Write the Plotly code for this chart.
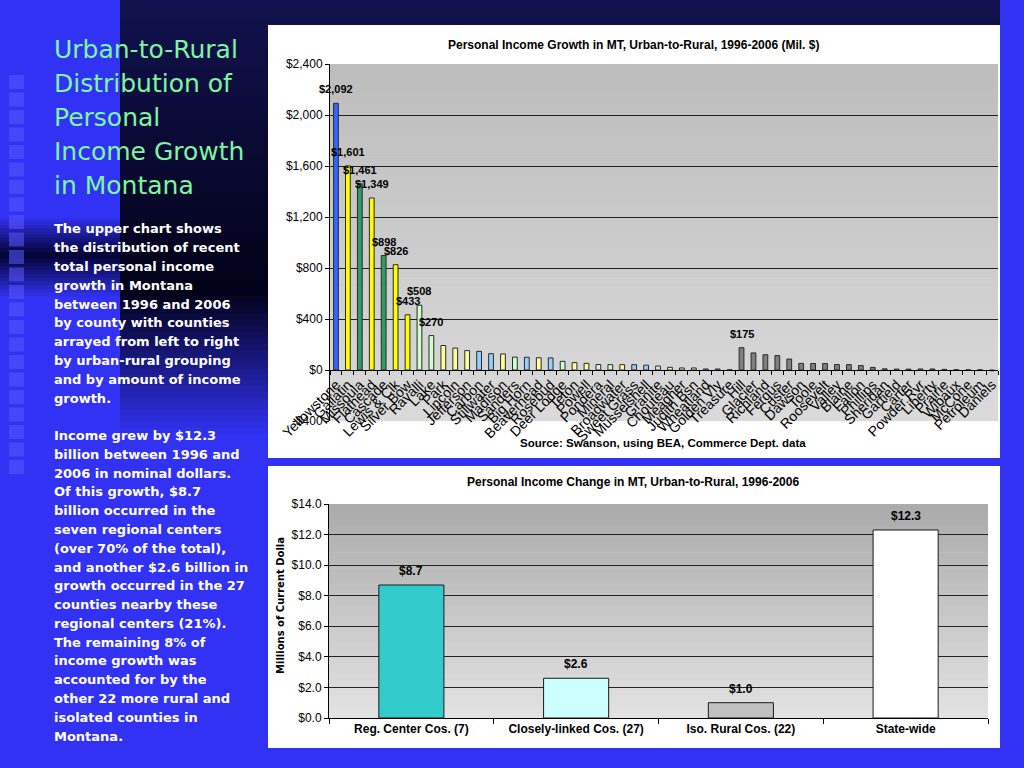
import plotly.graph_objects as go

W, H = 1024, 768


def X(px):
    return px / W


def Y(py):
    return 1 - py / H


# ---------------- data ----------------
counties = ["Yellowstone", "Gallatin", "Missoula", "Flathead", "Cascade", "Lewis & Clk", "Silver Bow",
            "Ravalli", "Lake", "Park", "Lincoln", "Jefferson", "Carbon", "Stillwater", "Madison",
            "Sanders", "Big Horn", "Beaverhead", "Rosebud", "Deer Lodge", "Teton", "Powell", "Pondera",
            "Mineral", "Broadwater", "Sweet Grass", "Musselshell", "Granite", "Chouteau", "Meagher",
            "Judith Bsn", "Wheatland", "Golden Vly", "Treasure",
            "Hill", "Glacier", "Richland", "Fergus", "Custer", "Dawson", "Toole", "Roosevelt", "Valley",
            "Blaine", "Fallon", "Phillips", "Sheridan", "Garfield", "Carter", "Powder Rvr", "Liberty",
            "Prairie", "Wibaux", "McCone", "Petroleum", "Daniels"]
growth = [2092, 1601, 1461, 1349, 898, 826, 433,
          508, 270, 192, 172, 152, 146, 128, 126, 101, 100, 96, 95, 68, 58, 52, 43, 42, 42, 42, 38,
          31, 21, 16, 16, 8, 8, 2,
          175, 134, 120, 113, 86, 52, 51, 51, 43, 42, 35, 20, 9, 7, 7, 8, 8, 5, 2, 1, 1, -6]
color_codes = ["B", "Y", "G", "Y", "G", "Y", "Y",
               "lg", "lg", "ly", "ly", "ly", "lb", "lb", "ly", "lg", "lb", "ly", "lb", "lg", "ly",
               "ly", "lg", "lg", "ly", "lb", "lb", "lg", "ly", "lg", "lg", "lb", "lb", "lb"] + ["gr"] * 22
labeled = ["Yellowstone", "Gallatin", "Missoula", "Flathead", "Cascade", "Lewis & Clk", "Silver Bow",
           "Ravalli", "Lake", "Hill"]
y1_ticks = [-400, 0, 400, 800, 1200, 1600, 2000, 2400]
y1_ticktext = ["-$400", "$0", "$400", "$800", "$1,200", "$1,600", "$2,000", "$2,400"]

groups = ["Reg. Center Cos. (7)", "Closely-linked Cos. (27)", "Iso. Rural Cos. (22)", "State-wide"]
group_change = [8.7, 2.6, 1.0, 12.3]
group_colors = ["#33CCCC", "#CCFFFF", "#C0C0C0", "#FFFFFF"]

title_lines = ["Urban-to-Rural", "Distribution of", "Personal", "Income Growth", "in Montana"]
body_lines = ["The upper chart shows", "the distribution of recent", "total personal income",
              "growth in Montana", "between 1996 and 2006", "by county with counties",
              "arrayed from left to right", "by urban-rural grouping", "and by amount of income",
              "growth.", "",
              "Income grew by $12.3", "billion between 1996 and", "2006 in nominal dollars.",
              "Of this growth, $8.7", "billion occurred in the", "seven regional centers",
              "(over 70% of the total),", "and another $2.6 billion in", "growth occurred in the 27",
              "counties nearby these", "regional centers (21%).", "The remaining 8% of",
              "income growth was", "accounted for by the", "other 22 more rural and",
              "isolated counties in", "Montana."]

palette = {"B": "#3366FF", "Y": "#FFFF00", "G": "#339966", "lb": "#99CCFF",
           "ly": "#FFFF99", "lg": "#CCFFCC", "gr": "#808080"}

FONT = "Liberation Sans, Arial, sans-serif"

# ---------------- helpers for decoration ----------------
shapes = []


def hexrgb(c):
    c = c.lstrip("#")
    return tuple(int(c[i:i + 2], 16) for i in (0, 2, 4))


def vgrad(x0, x1, y0, y1, c0, c1, n=30):
    a, b = hexrgb(c0), hexrgb(c1)
    for i in range(n):
        t = i / max(n - 1, 1)
        col = "rgb(%d,%d,%d)" % tuple(round(a[k] + (b[k] - a[k]) * t) for k in range(3))
        ya = y0 + (y1 - y0) * i / n
        yb = y0 + (y1 - y0) * (i + 1) / n + 0.6
        shapes.append(dict(type="rect", xref="paper", yref="paper", layer="below",
                           x0=X(x0), x1=X(x1), y0=Y(min(yb, y1)), y1=Y(ya),
                           fillcolor=col, line=dict(width=0)))


BLUE = "#3232F4"
# dark upper area of slide
vgrad(120, 1000, 0, 290, "#12124E", "#02021A", 30)
vgrad(120, 268, 290, 440, "#02021A", BLUE, 25)
# dark band on left column
vgrad(0, 120, 215, 255, BLUE, "#05053A", 12)
vgrad(0, 120, 255, 300, "#05053A", BLUE, 12)
# decorative squares
yy = 75.0
while yy < 470:
    shapes.append(dict(type="rect", xref="paper", yref="paper", layer="below",
                       x0=X(9), x1=X(24), y0=Y(yy + 14), y1=Y(yy),
                       fillcolor="rgba(90,90,255,0.55)", line=dict(width=0)))
    yy += 17.5

# white chart boxes
for (bx0, by0, bx1, by1) in [(268, 25, 1000, 458), (268, 466, 1000, 748)]:
    shapes.append(dict(type="rect", xref="paper", yref="paper", layer="below",
                       x0=X(bx0), x1=X(bx1), y0=Y(by1), y1=Y(by0),
                       fillcolor="white", line=dict(width=0)))

# plot area gradients
P1 = (330, 64, 998, 421)
P2 = (329, 504, 988, 718)
vgrad(P1[0], P1[2], P1[1], P1[3], "#BDBDBD", "#DADADA", 40)
vgrad(P2[0], P2[2], P2[1], P2[3], "#ABABAB", "#E2E2E2", 40)

# ---------------- traces ----------------
fig = go.Figure()
fig.add_trace(go.Bar(x=counties, y=growth, width=0.4,
                     marker=dict(color=[palette[c] for c in color_codes],
                                 line=dict(color="#2A2A2A", width=1)),
                     xaxis="x", yaxis="y", hoverinfo="x+y"))
fig.add_trace(go.Bar(x=groups, y=group_change, width=0.395,
                     marker=dict(color=group_colors, line=dict(color="#1A1A1A", width=1)),
                     xaxis="x2", yaxis="y2", hoverinfo="x+y"))

annotations = []
for name, v in zip(counties, growth):
    if name in labeled:
        annotations.append(dict(x=name, y=v, xref="x", yref="y", text="${:,}".format(v),
                                showarrow=False, yshift=14, yanchor="middle",
                                font=dict(family=FONT, size=11, color="black", weight="bold")))
for g, v in zip(groups, group_change):
    annotations.append(dict(x=g, y=v, xref="x2", yref="y2", text="${:.1f}".format(v),
                            showarrow=False, yshift=14, yanchor="middle",
                            font=dict(family=FONT, size=12, color="black", weight="bold")))

# chart titles and notes
annotations.append(dict(x=X(633), y=Y(45), xref="paper", yref="paper", showarrow=False,
                        yanchor="middle",
                        text="Personal Income Growth in MT, Urban-to-Rural, 1996-2006 (Mil. $)",
                        font=dict(family=FONT, size=12, color="black", weight="bold")))
annotations.append(dict(x=X(663), y=Y(443), xref="paper", yref="paper", showarrow=False,
                        yanchor="middle",
                        text="Source: Swanson, using BEA, Commerce Dept. data",
                        font=dict(family=FONT, size=11.5, color="black", weight="bold")))
annotations.append(dict(x=X(633), y=Y(482), xref="paper", yref="paper", showarrow=False,
                        yanchor="middle",
                        text="Personal Income Change in MT, Urban-to-Rural, 1996-2006",
                        font=dict(family=FONT, size=12, color="black", weight="bold")))
annotations.append(dict(x=X(280), y=Y(606), xref="paper", yref="paper", showarrow=False,
                        text="Millions of Current Dolla", textangle=-90,
                        xanchor="center", yanchor="middle",
                        font=dict(family="DejaVu Sans", size=10, color="black", weight="bold")))

# left-side text
for i, line in enumerate(title_lines):
    annotations.append(dict(x=X(52), y=Y(49 + i * 34.2), xref="paper", yref="paper",
                            showarrow=False, text=line, xanchor="left", yanchor="middle",
                            font=dict(family="DejaVu Sans", size=25, color="#7FF5A0")))
for i, line in enumerate(body_lines):
    if line:
        annotations.append(dict(x=X(52), y=Y(229 + i * 18.78), xref="paper", yref="paper",
                                showarrow=False, text=line, xanchor="left", yanchor="middle",
                                font=dict(family="DejaVu Sans", size=13, color="white",
                                          weight="bold")))

# zero-line position of chart 1 in paper coordinates
ymin, ymax = y1_ticks[0], y1_ticks[-1]
dom1 = [Y(P1[3]), Y(P1[1])]
zero_pos = dom1[0] + (0 - ymin) / (ymax - ymin) * (dom1[1] - dom1[0])

fig.update_layout(
    width=W, height=H, margin=dict(l=0, r=0, t=0, b=0, pad=0, autoexpand=False),
    paper_bgcolor=BLUE, plot_bgcolor="rgba(0,0,0,0)",
    showlegend=False,
    shapes=shapes, annotations=annotations,
    font=dict(family=FONT, color="black"),
    xaxis=dict(domain=[X(P1[0]), X(P1[2])], anchor="free", position=zero_pos,
               type="category", categoryorder="array", categoryarray=counties,
               range=[-0.5, len(counties) - 0.5], dtick=1, automargin=False,
               showline=True, linecolor="black", linewidth=1,
               ticks="outside", tickson="boundaries", ticklen=4, tickcolor="black",
               tickangle=-45, tickfont=dict(family=FONT, size=14, color="black"),
               showgrid=False, fixedrange=True),
    yaxis=dict(domain=dom1, anchor="x", range=[ymin, ymax], automargin=False,
               tickvals=y1_ticks, ticktext=y1_ticktext,
               showline=True, linecolor="black", linewidth=1,
               ticks="outside", ticklen=4, tickcolor="black",
               gridcolor="#222222", gridwidth=1, zeroline=False,
               tickfont=dict(family=FONT, size=12, color="black"), fixedrange=True),
    xaxis2=dict(domain=[X(P2[0]), X(P2[2])], anchor="y2", automargin=False,
                type="category", categoryorder="array", categoryarray=groups,
                showline=True, linecolor="black", linewidth=1,
                ticks="outside", tickson="boundaries", ticklen=5, tickcolor="black",
                tickfont=dict(family=FONT, size=12, color="black", weight="bold"),
                showgrid=False, fixedrange=True),
    yaxis2=dict(domain=[Y(P2[3]), Y(P2[1])], anchor="x2", range=[0, 14], dtick=2,
                automargin=False,
                tickformat="$.1f", showline=True, linecolor="black", linewidth=1,
                ticks="outside", ticklen=4, tickcolor="black",
                gridcolor="#222222", gridwidth=1, zeroline=False,
                tickfont=dict(family=FONT, size=12, color="black"), fixedrange=True),
)

fig.write_html("out.html", config={"displayModeBar": False},
               post_script="document.body.style.margin='0px';"
                           "document.body.style.background='%s';" % BLUE)
